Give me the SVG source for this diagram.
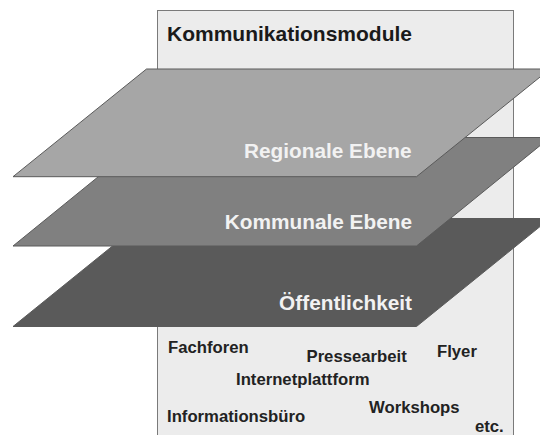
<svg xmlns="http://www.w3.org/2000/svg" width="540" height="435" viewBox="0 0 540 435">
  <style>
    .layer { stroke: #5a5a5a; stroke-width: 1; }
    .lbl { font-family: "Liberation Sans", Arial, sans-serif; font-weight: bold; font-size: 20.8px; fill: #f2f2f2; text-anchor: end; }
    .item { font-family: "Liberation Sans", Arial, sans-serif; font-weight: bold; font-size: 16.7px; fill: #222222; }
    .title { font-family: "Liberation Sans", Arial, sans-serif; font-weight: bold; font-size: 21px; fill: #1a1a1a; }
  </style>
  <rect x="0" y="0" width="540" height="435" fill="#ffffff"/>
  <g id="panel">
    <rect x="157.5" y="10.5" width="356" height="430" fill="#ececec" stroke="#7a7a7a" stroke-width="1"/>
    <text class="title" x="167" y="40.5">Kommunikationsmodule</text>
  </g>
  <g id="layer-oeffentlichkeit">
    <polygon class="layer" points="146.5,218.5 550,218.5 416.5,326.5 13,326.5" fill="#5a5a5a"/>
    <text class="lbl" x="412" y="310">Öffentlichkeit</text>
  </g>
  <g id="layer-kommunal">
    <polygon class="layer" points="146.5,137.5 550,137.5 416.5,246 13,246" fill="#808080"/>
    <text class="lbl" x="412" y="229.3">Kommunale Ebene</text>
  </g>
  <g id="layer-regional">
    <polygon class="layer" points="146.5,69 550,69 416.5,176.7 13,176.7" fill="#a6a6a6" stroke="#6e6e6e"/>
    <text class="lbl" x="411.5" y="158.3">Regionale Ebene</text>
  </g>
  <g id="items">
    <text class="item" x="168" y="353">Fachforen</text>
    <text class="item" x="306.5" y="361.5">Pressearbeit</text>
    <text class="item" x="437" y="357">Flyer</text>
    <text class="item" x="236" y="385">Internetplattform</text>
    <text class="item" x="369" y="413">Workshops</text>
    <text class="item" x="167" y="421.5">Informationsbüro</text>
    <text class="item" x="475" y="431.5">etc.</text>
  </g>
</svg>
